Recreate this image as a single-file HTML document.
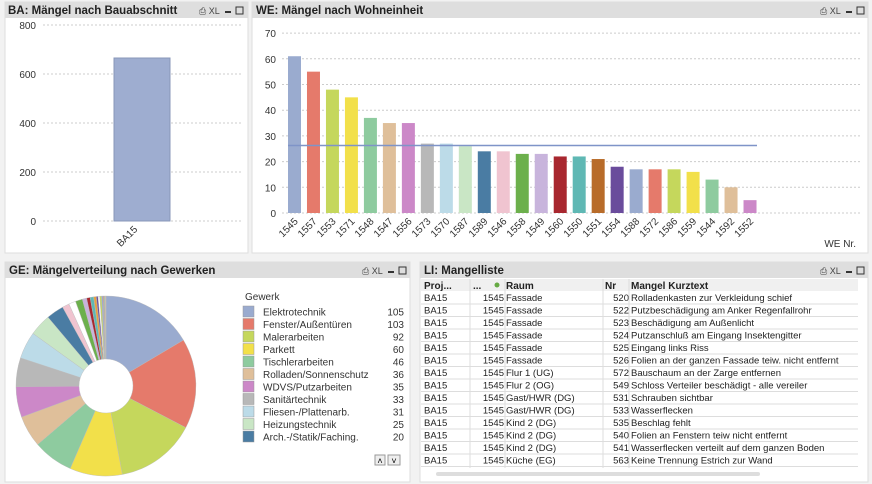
<!DOCTYPE html>
<html><head><meta charset="utf-8">
<style>
body{margin:0;width:872px;height:484px;background:#f4f4f4;overflow:hidden;font-family:"Liberation Sans",sans-serif}
svg{display:block}
text{font-family:"Liberation Sans",sans-serif}
</style></head>
<body>
<svg id="s" width="872" height="484" xmlns="http://www.w3.org/2000/svg">
<rect x="0" y="0" width="872" height="484" fill="#f2f2f2"/>
<!-- panels -->
<rect x="5" y="2" width="243" height="251" fill="#fff" stroke="#ddd"/>
<rect x="5" y="2" width="243" height="16" fill="#dedede"/>
<text x="8" y="14" font-size="11.5" font-weight="bold" fill="#222">BA: Mängel nach Bauabschnitt</text>
<rect x="252" y="2" width="616" height="251" fill="#fff" stroke="#ddd"/>
<rect x="252" y="2" width="616" height="16" fill="#dedede"/>
<text x="256" y="14" font-size="11.5" font-weight="bold" fill="#222">WE: Mängel nach Wohneinheit</text>
<rect x="5" y="262" width="405" height="220" fill="#fff" stroke="#ddd"/>
<rect x="5" y="262" width="405" height="16" fill="#dedede"/>
<text x="9" y="274" font-size="11.5" font-weight="bold" fill="#222">GE: Mängelverteilung nach Gewerken</text>
<rect x="420" y="262" width="448" height="220" fill="#fff" stroke="#ddd"/>
<rect x="420" y="262" width="448" height="16" fill="#dedede"/>
<text x="424" y="274" font-size="11.5" font-weight="bold" fill="#222">LI: Mangelliste</text>
<g id="dyn"></g>
</svg>
<script>
var g=document.getElementById('dyn'),h='';
function icons(x,y){return '<text x="'+x+'" y="'+y+'" font-size="9" fill="#444">🖶 XL</text><rect x="'+(x+28)+'" y="'+(y-3)+'" width="6" height="2" fill="#333"/><rect x="'+(x+38)+'" y="'+(y-8)+'" width="7" height="7" fill="none" stroke="#333"/>';}
h+='<text x="199" y="14" font-size="9" fill="#444">⎙ XL</text><rect x="225" y="11" width="6" height="2" fill="#333"/><rect x="236" y="7" width="7" height="7" fill="none" stroke="#333"/>';
h+='<text x="820" y="14" font-size="9" fill="#444">⎙ XL</text><rect x="846" y="11" width="6" height="2" fill="#333"/><rect x="857" y="7" width="7" height="7" fill="none" stroke="#333"/>';
h+='<text x="362" y="274" font-size="9" fill="#444">⎙ XL</text><rect x="388" y="271" width="6" height="2" fill="#333"/><rect x="399" y="267" width="7" height="7" fill="none" stroke="#333"/>';
h+='<text x="820" y="274" font-size="9" fill="#444">⎙ XL</text><rect x="846" y="271" width="6" height="2" fill="#333"/><rect x="857" y="267" width="7" height="7" fill="none" stroke="#333"/>';
// BA chart
for(var i=0;i<=4;i++){var y=221-i*49;h+='<line x1="43" x2="241" y1="'+y+'" y2="'+y+'" stroke="#ccc" stroke-dasharray="2,2"/><text x="36" y="'+(y+4)+'" font-size="10" text-anchor="end" fill="#333">'+(i*200)+'</text>';}
h+='<rect x="114" y="58" width="56" height="163" fill="#9eadd0" stroke="#8897b8"/>';
h+='<text transform="translate(138,230) rotate(-45)" font-size="10" text-anchor="end" fill="#333">BA15</text>';
// WE chart
var v=[61,55,48,45,37,35,35,27,27,26,24,24,23,23,22,22,21,18,17,17,17,16,13,10,5];
var lb=[1545,1557,1553,1571,1548,1547,1556,1573,1570,1587,1589,1546,1558,1549,1560,1550,1551,1554,1588,1572,1586,1559,1544,1592,1552];
var c=['#9aabcf','#e57a6b','#c5d75c','#f2e04a','#8ecb9f','#dfbf9a','#cc88c8','#b8b8b8','#bcdbe8','#c9e6c5','#4a7ca3','#f0c4d0','#6cb04c','#c8b4dc','#a8272f','#5fb8b4','#b86c2a','#6a4c9c'];
for(var i=0;i<=7;i++){var y=213-i*25.7;h+='<line x1="282" x2="862" y1="'+y+'" y2="'+y+'" stroke="#ccc" stroke-dasharray="2,2"/><text x="276" y="'+(y+4)+'" font-size="10" text-anchor="end" fill="#333">'+(i*10)+'</text>';}
for(var i=0;i<25;i++){var cx=294.5+i*18.98,bh=v[i]*2.57;h+='<rect x="'+(cx-6.5)+'" y="'+(213-bh)+'" width="13" height="'+bh+'" fill="'+c[i%18]+'"/>';
h+='<text transform="translate('+(cx+4)+',222) rotate(-45)" font-size="10" text-anchor="end" fill="#333">'+lb[i]+'</text>';}
h+='<line x1="288" x2="757" y1="145.5" y2="145.5" stroke="#7f94c8" stroke-width="1.5"/>';
h+='<text x="856" y="247" font-size="10" text-anchor="end" fill="#333">WE Nr.</text>';
// pie
var pv=[105,103,92,60,46,36,35,33,31,25,20,8,8,8,5,4,4,3,2,2,2,2,1,1,1];
var pc=['#9aabcf','#e57a6b','#c5d75c','#f2e04a','#8ecb9f','#dfbf9a','#cc88c8','#b8b8b8','#bcdbe8','#c9e6c5','#4a7ca3','#f0c4d0','#ffffff','#6cb04c','#c8b4dc','#a8272f','#5fb8b4','#e8a040','#6a4c9c','#ffffff','#c5d75c','#9aabcf','#e57a6b','#8ecb9f','#dfbf9a'];
var tot=pv.reduce(function(a,b){return a+b},0),a0=0,cx=106,cy=386,R=90,r=27;
function P(a,rr){return (cx+rr*Math.sin(a)).toFixed(2)+','+(cy-rr*Math.cos(a)).toFixed(2);}
for(var i=0;i<pv.length;i++){var a1=a0+pv[i]/tot*2*Math.PI,lg=(a1-a0)>Math.PI?1:0;
h+='<path d="M'+P(a0,R)+'A'+R+','+R+' 0 '+lg+' 1 '+P(a1,R)+'L'+P(a1,r)+'A'+r+','+r+' 0 '+lg+' 0 '+P(a0,r)+'Z" fill="'+pc[i]+'" stroke="#bbb" stroke-width="0.4"/>';a0=a1;}
// legend
var ln=['Elektrotechnik','Fenster/Außentüren','Malerarbeiten','Parkett','Tischlerarbeiten','Rolladen/Sonnenschutz','WDVS/Putzarbeiten','Sanitärtechnik','Fliesen-/Plattenarb.','Heizungstechnik','Arch.-/Statik/Faching.'];
h+='<text x="245" y="300" font-size="10" fill="#333">Gewerk</text>';
for(var i=0;i<11;i++){var y=306+i*12.5;h+='<rect x="243" y="'+y+'" width="11" height="11" fill="'+pc[i]+'" stroke="#999" stroke-width="0.5"/><text x="263" y="'+(y+9.5)+'" font-size="10" fill="#333">'+ln[i]+'</text><text x="404" y="'+(y+9.5)+'" font-size="10" text-anchor="end" fill="#333">'+pv[i]+'</text>';}
h+='<rect x="375" y="455" width="10" height="10" fill="#eee" stroke="#999"/><text x="380" y="464" font-size="9" text-anchor="middle">˄</text><rect x="388" y="455" width="12" height="10" fill="#eee" stroke="#999"/><text x="394" y="464" font-size="9" text-anchor="middle">˅</text>';
// table
h+='<rect x="421" y="279" width="437" height="12" fill="#f0f0f0"/>';
h+='<text x="424" y="289" font-size="10" font-weight="bold" fill="#222">Proj...</text><text x="473" y="289" font-size="10" font-weight="bold" fill="#222">...</text><circle cx="497" cy="285" r="2.5" fill="#6a4"/><text x="506" y="289" font-size="10" font-weight="bold" fill="#222">Raum</text><text x="605" y="289" font-size="10" font-weight="bold" fill="#222">Nr</text><text x="631" y="289" font-size="10" font-weight="bold" fill="#222">Mangel Kurztext</text>';
var rows=[['Fassade',520,'Rolladenkasten zur Verkleidung schief'],['Fassade',522,'Putzbeschädigung am Anker Regenfallrohr'],['Fassade',523,'Beschädigung am Außenlicht'],['Fassade',524,'Putzanschluß am Eingang Insektengitter'],['Fassade',525,'Eingang links Riss'],['Fassade',526,'Folien an der ganzen Fassade teiw. nicht entfernt'],['Flur 1 (UG)',572,'Bauschaum an der Zarge entfernen'],['Flur 2 (OG)',549,'Schloss Verteiler beschädigt - alle vereiler'],['Gast/HWR (DG)',531,'Schrauben sichtbar'],['Gast/HWR (DG)',533,'Wasserflecken'],['Kind 2 (DG)',535,'Beschlag fehlt'],['Kind 2 (DG)',540,'Folien an Fenstern teiw nicht entfernt'],['Kind 2 (DG)',541,'Wasserflecken verteilt auf dem ganzen Boden'],['Küche (EG)',563,'Keine Trennung Estrich zur Wand']];
for(var i=0;i<rows.length;i++){var y=301+i*12.5;
h+='<text x="424" y="'+y+'" font-size="9.5" fill="#222">BA15</text><text x="504" y="'+y+'" font-size="9.5" text-anchor="end" fill="#222">1545</text><text x="506" y="'+y+'" font-size="9.5" fill="#222">'+rows[i][0]+'</text><text x="629" y="'+y+'" font-size="9.5" text-anchor="end" fill="#222">'+rows[i][1]+'</text><text x="631" y="'+y+'" font-size="9.5" fill="#222">'+rows[i][2]+'</text><line x1="421" x2="858" y1="'+(y+3)+'" y2="'+(y+3)+'" stroke="#ddd"/>';}
['470','505','603','629'].forEach(function(x){h+='<line x1="'+x+'" x2="'+x+'" y1="279" y2="468" stroke="#ddd"/>';});
h+='<rect x="436" y="472" width="324" height="4" rx="2" fill="#ddd"/>';
g.innerHTML=h;
</script>
</body></html>
